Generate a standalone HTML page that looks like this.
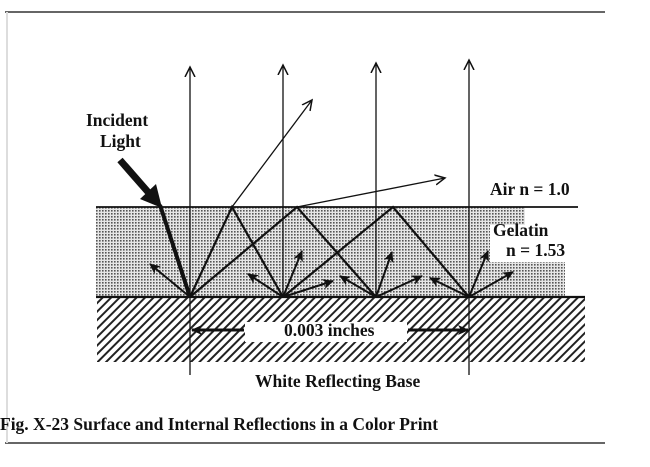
<!DOCTYPE html>
<html><head><meta charset="utf-8"><style>
html,body{margin:0;padding:0;background:#fff;}
svg{display:block;}
text{font-family:"Liberation Serif",serif;font-weight:bold;fill:#111;}
</style></head><body>
<svg width="650" height="467" viewBox="0 0 650 467" xmlns="http://www.w3.org/2000/svg">
<defs>
<pattern id="dots" width="3" height="3" patternUnits="userSpaceOnUse">
<rect width="3" height="3" fill="#e6e6e6"/>
<rect x="0" y="0" width="1.6" height="1.6" fill="#555"/>
</pattern>
<pattern id="hatch" width="6" height="6" patternUnits="userSpaceOnUse" patternTransform="rotate(45)">
<rect width="6" height="6" fill="#fff"/>
<rect x="0" y="0" width="2" height="6" fill="#222"/>
</pattern>
<marker id="oa" markerWidth="12" markerHeight="12" refX="10" refY="6" orient="auto" markerUnits="userSpaceOnUse">
<path d="M0,1 L10,6 L0,11" fill="none" stroke="#111" stroke-width="1.5"/>
</marker>
<marker id="sa" markerWidth="12" markerHeight="10" refX="10" refY="5" orient="auto" markerUnits="userSpaceOnUse">
<path d="M0,0 L11,5 L0,10 L3,5 Z" fill="#111"/>
</marker>
</defs>
<line x1="5" y1="12" x2="605" y2="12" stroke="#333" stroke-width="1.5"/>
<line x1="5" y1="443" x2="605" y2="443" stroke="#333" stroke-width="1.5"/>
<line x1="7" y1="12" x2="7" y2="443" stroke="#ddd" stroke-width="2"/>
<path d="M96,207 L525,207 L525,225 L490,225 L490,262 L565,262 L565,297 L96,297 Z" fill="url(#dots)"/>
<rect x="97" y="297" width="488" height="65" fill="url(#hatch)"/>
<rect x="245" y="322" width="162" height="20" fill="#fff"/>
<line x1="96" y1="207" x2="578" y2="207" stroke="#111" stroke-width="1.8"/>
<line x1="96" y1="297" x2="585" y2="297" stroke="#111" stroke-width="2.2"/>
<g stroke="#111" stroke-width="1.3" fill="none" marker-end="url(#oa)">
<line x1="190" y1="297" x2="190" y2="67"/>
<line x1="283" y1="297" x2="283" y2="65"/>
<line x1="376" y1="297" x2="376" y2="63"/>
<line x1="469" y1="297" x2="469" y2="60"/>
<line x1="232" y1="207" x2="312" y2="100"/>
<line x1="297" y1="207" x2="445" y2="178"/>
</g>
<line x1="190" y1="297" x2="190" y2="375" stroke="#111" stroke-width="1.3"/>
<line x1="469" y1="297" x2="469" y2="375" stroke="#111" stroke-width="1.3"/>
<g stroke="#111" stroke-width="2.2" fill="none">
<polyline points="190,297 232,207 283,297"/>
<polyline points="190,297 297,207 376,297"/>
<polyline points="283,297 393,207 469,297"/>
</g>
<!-- incident -->
<line x1="120" y1="160" x2="148" y2="192" stroke="#111" stroke-width="7"/>
<polygon points="140,199 156,184 162,208" fill="#111"/>
<line x1="160" y1="205" x2="190" y2="297" stroke="#111" stroke-width="4"/>
<g stroke="#111" stroke-width="2" marker-end="url(#sa)">
<line x1="190" y1="297" x2="150" y2="264"/>
<line x1="283" y1="297" x2="248" y2="274"/>
<line x1="283" y1="297" x2="302" y2="251"/>
<line x1="283" y1="297" x2="333" y2="281"/>
<line x1="376" y1="297" x2="340" y2="276"/>
<line x1="376" y1="297" x2="392" y2="252"/>
<line x1="376" y1="297" x2="422" y2="276"/>
<line x1="469" y1="297" x2="430" y2="278"/>
<line x1="469" y1="297" x2="488" y2="251"/>
<line x1="469" y1="297" x2="513" y2="272"/>
</g>
<line x1="244" y1="330" x2="192" y2="330" stroke="#111" stroke-width="3" marker-end="url(#sa)"/>
<line x1="408" y1="330" x2="468" y2="330" stroke="#111" stroke-width="3" marker-end="url(#sa)"/>
<text x="284" y="336" font-size="17.5">0.003 inches</text>
<text x="86" y="126" font-size="17.5">Incident</text>
<text x="100" y="147" font-size="17.5">Light</text>
<text x="490" y="195" font-size="17.5">Air n = 1.0</text>
<text x="493" y="236" font-size="17.5">Gelatin</text>
<text x="506" y="256" font-size="17.5">n = 1.53</text>
<text x="255" y="387" font-size="17.5">White Reflecting Base</text>
<text x="0" y="430" font-size="17.5">Fig. X-23 Surface and Internal Reflections in a Color Print</text>
</svg>
</body></html>
